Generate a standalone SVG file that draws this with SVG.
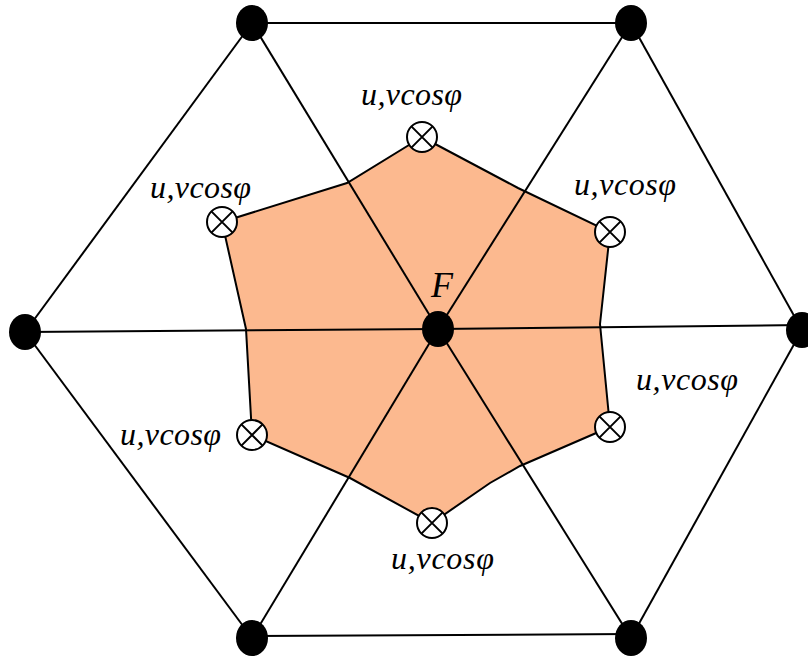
<svg xmlns="http://www.w3.org/2000/svg" width="808" height="657" viewBox="0 0 808 657">
<style>
.ln{stroke:#000;stroke-width:2;fill:none}
.nd{fill:#000}
.sen{fill:#fff;stroke:#000;stroke-width:2}
.lb{font-family:"Liberation Serif",serif;font-style:italic;font-size:32px;fill:#000}
</style>
<rect width="808" height="657" fill="#fff"/>
<g id="region">
<polygon points="422,137 347,183 222,222 246,329 252,435 350,478 432,523 490,483 520,466 610,427 600,324 610,232 518,188" fill="#FCB98F" stroke="#000" stroke-width="2"/>
</g>
<g id="connectors" class="ln">
<line x1="252" y1="23" x2="631" y2="23"/>
<line x1="252" y1="636" x2="631" y2="634"/>
<line x1="252" y1="23" x2="25" y2="332"/>
<line x1="25" y1="332" x2="252" y2="638"/>
<line x1="631" y1="23" x2="802" y2="330"/>
<line x1="802" y1="330" x2="631" y2="638"/>
<line x1="25" y1="332" x2="438" y2="329"/>
<line x1="438" y1="329" x2="802" y2="325"/>
<line x1="252" y1="23" x2="438" y2="329"/>
<line x1="438" y1="329" x2="631" y2="638"/>
<line x1="631" y1="23" x2="438" y2="329"/>
<line x1="438" y1="329" x2="252" y2="638"/>
</g>
<g id="n-topleft"><ellipse class="nd" cx="252" cy="23" rx="16" ry="18"/></g>
<g id="n-topright"><ellipse class="nd" cx="631" cy="23" rx="16" ry="18"/></g>
<g id="n-left"><ellipse class="nd" cx="25" cy="332" rx="16" ry="18"/></g>
<g id="n-right"><ellipse class="nd" cx="802" cy="330" rx="16" ry="18"/></g>
<g id="n-bottomleft"><ellipse class="nd" cx="252" cy="638" rx="16" ry="18"/></g>
<g id="n-bottomright"><ellipse class="nd" cx="631" cy="638" rx="16" ry="18"/></g>
<g id="n-F"><ellipse class="nd" cx="438" cy="329" rx="16" ry="18"/>
<text x="431" y="297" font-family="Liberation Serif,serif" font-style="italic" font-size="36">F</text></g>
<defs>
<g id="sensor"><circle class="sen" r="15"/><path d="M-10.6,-10.6L10.6,10.6M10.6,-10.6L-10.6,10.6" stroke="#000" stroke-width="2"/></g>
</defs>
<g id="s-top"><use href="#sensor" x="422" y="137"/><text class="lb" x="361" y="105" textLength="101" lengthAdjust="spacing">u,vcosφ</text></g>
<g id="s-lefttop"><use href="#sensor" x="222" y="222"/><text class="lb" x="150" y="198" textLength="101" lengthAdjust="spacing">u,vcosφ</text></g>
<g id="s-leftbottom"><use href="#sensor" x="252" y="435"/><text class="lb" x="120" y="445" textLength="101" lengthAdjust="spacing">u,vcosφ</text></g>
<g id="s-bottom"><use href="#sensor" x="432" y="523"/><text class="lb" x="391" y="569" textLength="103" lengthAdjust="spacing">u,vcosφ</text></g>
<g id="s-righttop"><use href="#sensor" x="610" y="232"/><text class="lb" x="574" y="195" textLength="102" lengthAdjust="spacing">u,vcosφ</text></g>
<g id="s-rightbottom"><use href="#sensor" x="610" y="427"/><text class="lb" x="636" y="390" textLength="102" lengthAdjust="spacing">u,vcosφ</text></g>
</svg>
